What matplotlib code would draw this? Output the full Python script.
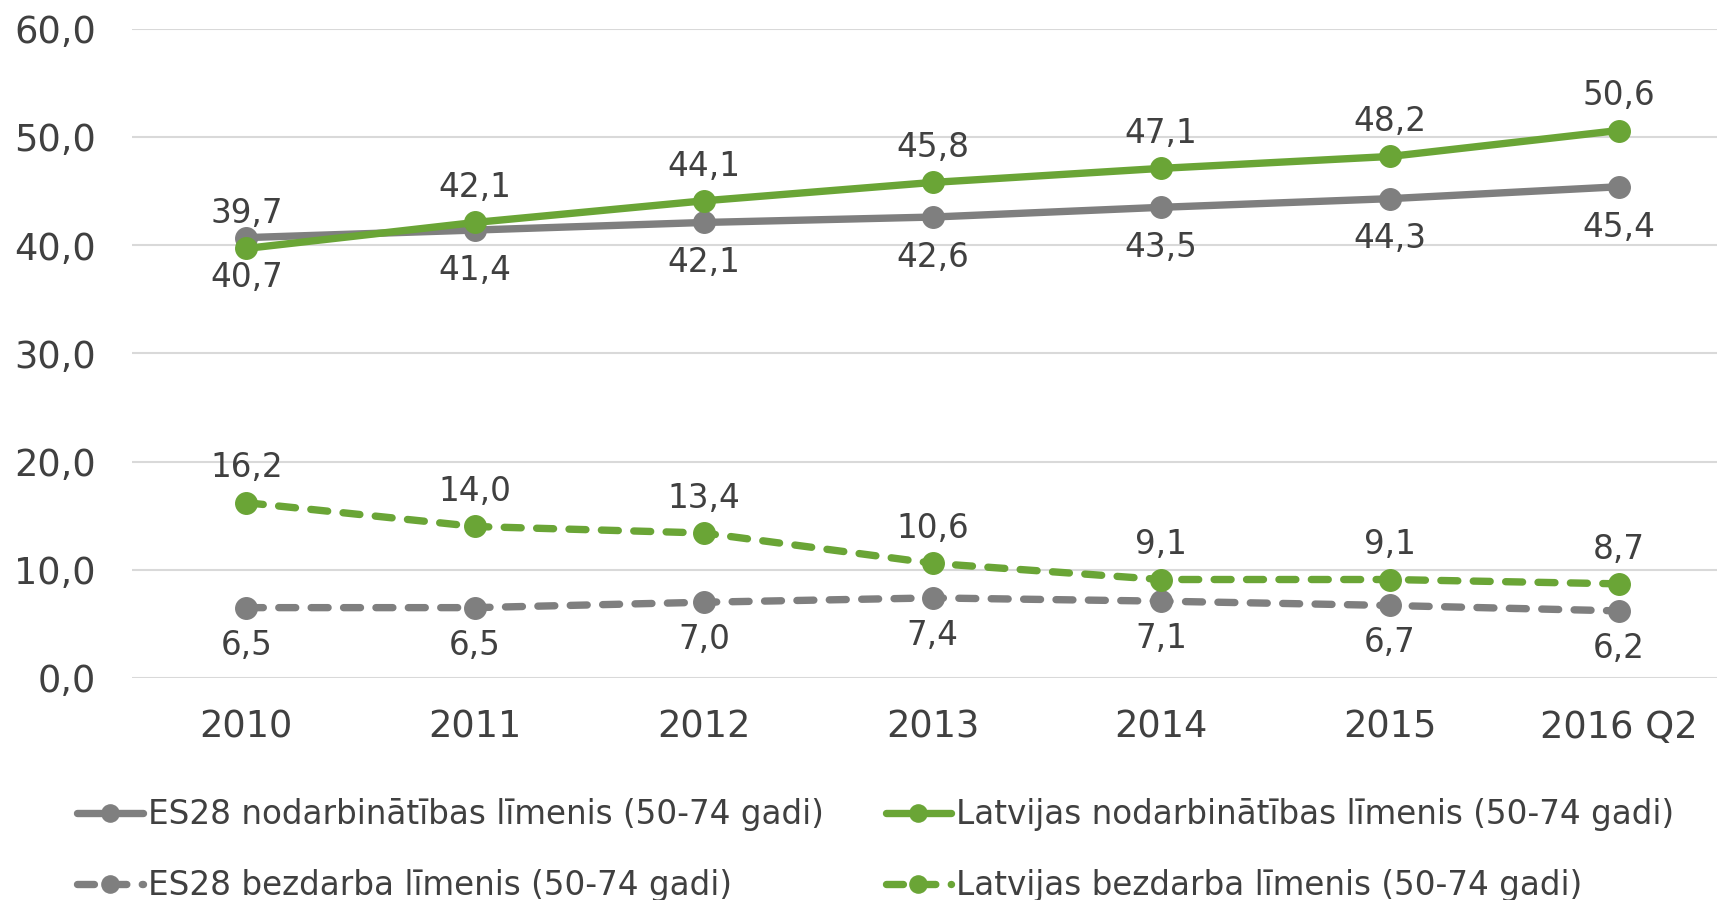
import matplotlib.pyplot as plt

years = ['2010', '2011', '2012', '2013', '2014', '2015', '2016 Q2']
es_empl = [40.7, 41.4, 42.1, 42.6, 43.5, 44.3, 45.4]
lv_empl = [39.7, 42.1, 44.1, 45.8, 47.1, 48.2, 50.6]
es_unemp = [6.5, 6.5, 7.0, 7.4, 7.1, 6.7, 6.2]
lv_unemp = [16.2, 14.0, 13.4, 10.6, 9.1, 9.1, 8.7]

labels = ['ES28 nodarbinātības līmenis (50-74 gadi)',
          'Latvijas nodarbinātības līmenis (50-74 gadi)',
          'ES28 bezdarba līmenis (50-74 gadi)',
          'Latvijas bezdarba līmenis (50-74 gadi)']

gray = '#7f7f7f'
green = '#6aa536'
txt = '#404040'

plt.rcParams['font.family'] = 'DejaVu Sans'

fig = plt.figure(figsize=(17.17, 9.0), dpi=100)
ax = fig.add_axes([0.0769, 0.2467, 0.9231, 0.7213])

x = list(range(len(years)))
lw = 5.3
ms = 15.5
dash = (2.3, 2.1)

l1, = ax.plot(x, es_empl, color=gray, lw=lw, marker='o', ms=ms, solid_capstyle='round', zorder=3)
l2, = ax.plot(x, lv_empl, color=green, lw=lw, marker='o', ms=ms, solid_capstyle='round', zorder=4)
l3, = ax.plot(x, es_unemp, color=gray, lw=lw, marker='o', ms=ms, dashes=dash, dash_capstyle='round', zorder=3)
l4, = ax.plot(x, lv_unemp, color=green, lw=lw, marker='o', ms=ms, dashes=dash, dash_capstyle='round', zorder=4)

def fmt(v):
    return f'{v:.1f}'.replace('.', ',')

# green labels above the points, grey labels below
for xi, v in zip(x, lv_empl):
    ax.annotate(fmt(v), (xi, v), xytext=(0, 25), textcoords='offset points',
                ha='center', va='center', fontsize=23.5, color=txt)
for xi, v in zip(x, es_empl):
    ax.annotate(fmt(v), (xi, v), xytext=(0, -29), textcoords='offset points',
                ha='center', va='center', fontsize=23.5, color=txt)
for xi, v in zip(x, lv_unemp):
    ax.annotate(fmt(v), (xi, v), xytext=(0, 25), textcoords='offset points',
                ha='center', va='center', fontsize=23.5, color=txt)
for xi, v in zip(x, es_unemp):
    ax.annotate(fmt(v), (xi, v), xytext=(0, -27), textcoords='offset points',
                ha='center', va='center', fontsize=23.5, color=txt)

ax.set_xlim(-0.5, 6.43)
ax.set_ylim(0, 60)
ax.set_yticks([0, 10, 20, 30, 40, 50, 60])
ax.set_yticklabels([fmt(t) for t in [0, 10, 20, 30, 40, 50, 60]])
ax.set_xticks(x)
ax.set_xticklabels(years)
ax.tick_params(axis='both', length=0, labelsize=26.5, colors=txt)
ax.tick_params(axis='y', pad=26)
ax.tick_params(axis='x', pad=22)
for s in ax.spines.values():
    s.set_visible(False)
ax.grid(True, axis='y', color='#d9d9d9', lw=1.5, zorder=0)
ax.set_axisbelow(True)
for ln in (l1, l2, l3, l4):
    ln.set_clip_on(False)

# legend fills column by column, so order handles to get 2 rows
fig.legend([l1, l3, l2, l4], [labels[0], labels[2], labels[1], labels[3]],
           loc='upper left', bbox_to_anchor=(0.028, 0.146),
           ncol=2, frameon=False, fontsize=23.5, labelcolor=txt, handlelength=2.0,
           handletextpad=0.15, columnspacing=1.9, labelspacing=1.18, numpoints=1,
           markerscale=0.8)

fig.savefig('out.png', dpi=100)
